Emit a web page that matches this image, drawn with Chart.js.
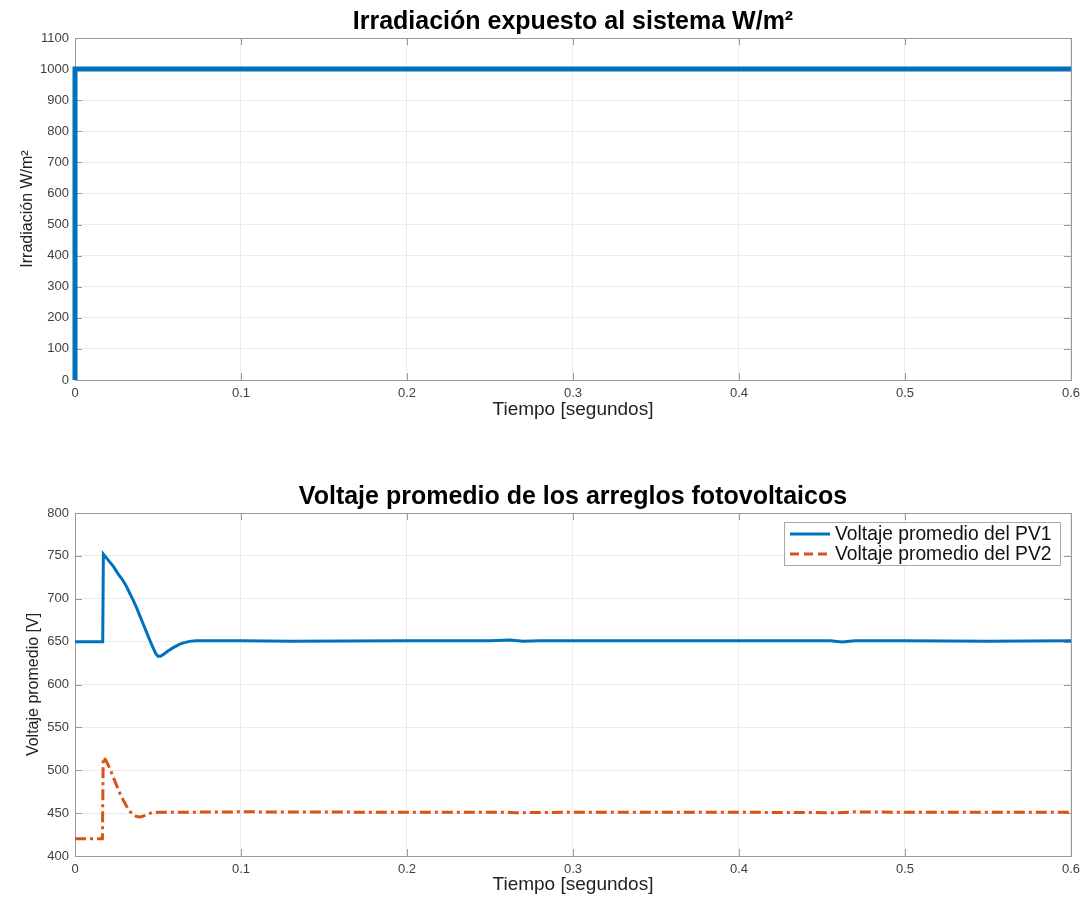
<!DOCTYPE html>
<html><head><meta charset="utf-8">
<script src="https://cdn.jsdelivr.net/npm/chart.js@4.4.1/dist/chart.umd.min.js"></script>
<style>body{margin:0;background:#fff;} .w{position:absolute;left:0;}</style>
</head><body>
<div class="w" style="top:0"><canvas id="c1" width="1086" height="450"></canvas></div>
<div class="w" style="top:450px"><canvas id="c2" width="1086" height="447"></canvas></div>
<script>
// ---- data ----
const tiempoIrr = [0, 0, 0.6];
const irradiacion = [0, 1000, 1000];

const tiempoPV1 = [0, 0.0167, 0.0171, 0.0200, 0.0230, 0.0260, 0.0290, 0.0311, 0.0331, 0.0351, 0.0372, 0.0392, 0.0412, 0.0432, 0.0452, 0.0472, 0.0487, 0.0500, 0.0515, 0.0532, 0.0560, 0.0592, 0.0625, 0.0653, 0.0690, 0.0730, 0.08, 0.1, 0.13, 0.2, 0.25, 0.262, 0.27, 0.28, 0.35, 0.4, 0.455, 0.462, 0.47, 0.5, 0.55, 0.6];
const voltajePV1 = [650, 650, 752, 745, 738, 729, 721, 714, 706, 698, 689, 679.5, 670, 660.5, 651, 642, 636, 633, 633, 635, 639, 643, 646.5, 648.5, 650.3, 651, 651, 651, 650.5, 651, 651, 652, 650.5, 651, 651, 651, 651, 649.5, 651, 651, 650.5, 651];

const tiempoPV2 = [0, 0.0165, 0.0170, 0.0185, 0.0205, 0.0231, 0.0251, 0.0271, 0.0291, 0.0311, 0.0331, 0.0351, 0.0372, 0.0392, 0.0412, 0.0432, 0.0460, 0.0500, 0.06, 0.1, 0.2, 0.26, 0.265, 0.3, 0.4, 0.46, 0.47, 0.5, 0.6];
const voltajePV2 = [420, 420, 515, 512, 504, 492, 482, 473, 465, 458, 452, 448, 446, 445.5, 446.5, 448.5, 450.3, 451, 451, 451.5, 451, 451, 450.5, 451, 451, 450.5, 451.5, 451, 451];

const ticksX = [0, 0.1, 0.2, 0.3, 0.4, 0.5, 0.6];
const ticksIrr = [0, 100, 200, 300, 400, 500, 600, 700, 800, 900, 1000, 1100];
const ticksVolt = [400, 450, 500, 550, 600, 650, 700, 750, 800];

const titulo1 = 'Irradiación expuesto al sistema W/m²';
const titulo2 = 'Voltaje promedio de los arreglos fotovoltaicos';
const ejeX = 'Tiempo [segundos]';
const ejeY1 = 'Irradiación W/m²';
const ejeY2 = 'Voltaje promedio [V]';
const etiquetas = ['Voltaje promedio del PV1', 'Voltaje promedio del PV2'];

const AZUL = '#0072BD', NARANJA = '#D95319';
const FONT = '"Liberation Sans", Arial, Helvetica, sans-serif';

function pts(xs, ys){ return xs.map((x,i)=>({x:x, y:ys[i]})); }
function fmtX(v){ const n = Math.round(v*10)/10; return n===0 ? '0' : n.toString(); }
function fmtY(v){ return String(Math.round(v)); }

const boxPlugin = {
  id: 'boxPlugin',
  beforeDatasetsDraw(chart){
    const {ctx, chartArea:a, scales} = chart;
    ctx.save();
    ctx.strokeStyle = '#9a9a9a';
    ctx.lineWidth = 1;
    ctx.strokeRect(Math.round(a.left)+0.5, Math.round(a.top)+0.5, Math.round(a.right-a.left), Math.round(a.bottom-a.top));
    const L = 7;
    ctx.beginPath();
    scales.x.ticks.forEach(t=>{
      const px = Math.round(scales.x.getPixelForValue(t.value))+0.5;
      ctx.moveTo(px, a.bottom); ctx.lineTo(px, a.bottom-L);
      ctx.moveTo(px, a.top); ctx.lineTo(px, a.top+L);
    });
    scales.y.ticks.forEach(t=>{
      const py = Math.round(scales.y.getPixelForValue(t.value))+0.5;
      ctx.moveTo(a.left, py); ctx.lineTo(a.left+L, py);
      ctx.moveTo(a.right, py); ctx.lineTo(a.right-L, py);
    });
    ctx.stroke();
    ctx.restore();
  }
};

const plotTitlePlugin = {
  id: 'plotTitle',
  afterDraw(chart){
    const o = chart.options.plugins.plotTitle;
    if (!o) return;
    const {ctx, chartArea:a} = chart;
    ctx.save();
    ctx.font = 'bold 25px ' + FONT;
    ctx.fillStyle = '#000';
    ctx.textAlign = 'center';
    ctx.textBaseline = 'middle';
    ctx.fillText(o.text, (a.left + a.right)/2, o.y);
    ctx.restore();
  }
};

const legendPlugin = {
  id: 'legendPlugin',
  afterDraw(chart){
    if (!chart.options.plugins.legendPlugin || !chart.options.plugins.legendPlugin.show) return;
    const {ctx} = chart;
    const x0 = 784, y0 = 72, w = 276, h = 43;
    ctx.save();
    ctx.fillStyle = '#fff';
    ctx.fillRect(x0, y0, w, h);
    ctx.strokeStyle = '#a8a8a8';
    ctx.lineWidth = 1;
    ctx.strokeRect(x0+0.5, y0+0.5, w, h);
    ctx.font = '19.3px ' + FONT;
    ctx.textBaseline = 'middle';
    chart.data.datasets.forEach((ds, i)=>{
      const yy = y0 + 12 + i*20;
      ctx.strokeStyle = ds.borderColor;
      ctx.lineWidth = 3;
      ctx.setLineDash(i===1 ? [9,5] : []);
      ctx.beginPath(); ctx.moveTo(790, yy); ctx.lineTo(830, yy); ctx.stroke();
      ctx.setLineDash([]);
      ctx.fillStyle = '#111';
      ctx.fillText(ds.label, 835, yy+1);
    });
    ctx.restore();
  }
};

function makeOptions(title, titleY, yTitle, yMin, yMax, yTicks, canvasH, plotTop, plotBottom, xTitleCenter, yTitlePad){
  return {
    responsive: false,
    animation: false,
    layout: { padding: { left: 0, right: 15, top: plotTop, bottom: 0 } },
    plugins: {
      legend: { display: false },
      tooltip: { enabled: false },
      title: { display: false },
      plotTitle: { text: title, y: titleY }
    },
    scales: {
      x: {
        type: 'linear', min: 0, max: 0.6,
        afterBuildTicks(s){ s.ticks = ticksX.map(v=>({value:v})); },
        ticks: { callback: fmtX, color: '#404040', font: { family: FONT, size: 13 }, padding: 6, maxRotation: 0, autoSkip: false },
        grid: { color: '#ececec', drawTicks: false },
        border: { display: false },
        title: { display: true, text: ejeX, color: '#222', font: { family: FONT, size: 19, lineHeight: 1.2 }, padding: { top: 0, bottom: canvasH - xTitleCenter - 11.4 } },
        afterFit(s){ s.height = canvasH - plotBottom; }
      },
      y: {
        type: 'linear', min: yMin, max: yMax,
        afterBuildTicks(s){ s.ticks = yTicks.map(v=>({value:v})); },
        ticks: { callback: fmtY, color: '#404040', font: { family: FONT, size: 13 }, padding: 6, autoSkip: false },
        grid: { color: '#ececec', drawTicks: false },
        border: { display: false },
        title: { display: true, text: yTitle, color: '#222', font: { family: FONT, size: 16, lineHeight: 1.2 }, padding: { top: yTitlePad } },
        afterFit(s){ s.width = 75; }
      }
    }
  };
}

new Chart(document.getElementById('c1'), {
  type: 'line',
  data: { datasets: [{
    label: 'Irradiación', data: pts(tiempoIrr, irradiacion),
    borderColor: AZUL, borderWidth: 5, pointRadius: 0, tension: 0, fill: false, clip: 6
  }]},
  options: makeOptions(titulo1, 22, ejeY1, 0, 1100, ticksIrr, 450, 38, 380, 410, 18),
  plugins: [boxPlugin, plotTitlePlugin]
});

const opt2 = makeOptions(titulo2, 47, ejeY2, 400, 800, ticksVolt, 447, 63, 406, 435, 24);
opt2.plugins.legendPlugin = { show: true };
new Chart(document.getElementById('c2'), {
  type: 'line',
  data: { datasets: [
    { label: etiquetas[0], data: pts(tiempoPV1, voltajePV1), borderColor: AZUL, borderWidth: 3, pointRadius: 0, tension: 0, fill: false },
    { label: etiquetas[1], data: pts(tiempoPV2, voltajePV2), borderColor: NARANJA, borderWidth: 3, borderDash: [11,4,3,4], pointRadius: 0, tension: 0, fill: false }
  ]},
  options: opt2,
  plugins: [boxPlugin, plotTitlePlugin, legendPlugin]
});
</script>
</body></html>
